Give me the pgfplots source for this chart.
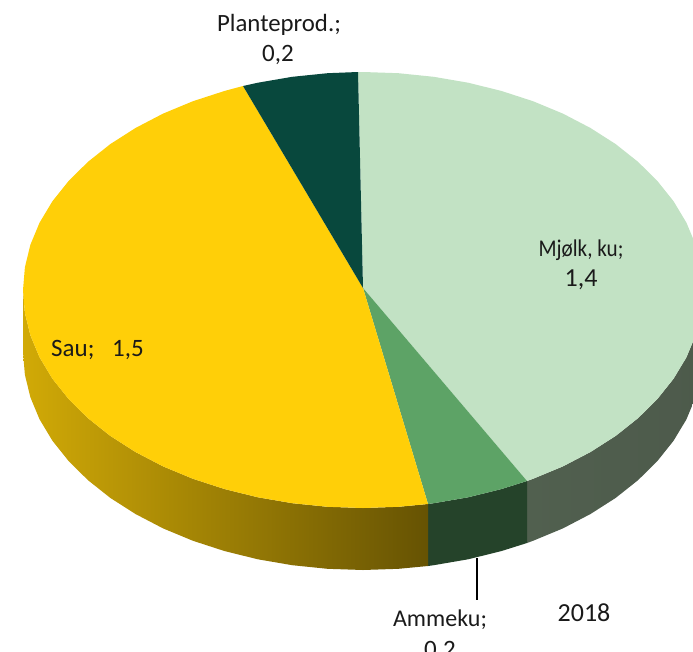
\documentclass[border=0pt]{standalone}
\usepackage{pgfplots}
\usepackage{fontspec}
\setmainfont{Carlito}
\pgfplotsset{compat=1.18}
\definecolor{mj}{HTML}{C2E2C4}
\definecolor{am}{HTML}{5DA366}
\definecolor{pl}{HTML}{08483D}
\definecolor{sa}{HTML}{FFCF08}
\definecolor{amside}{HTML}{25432A}
\definecolor{mjsideL}{HTML}{51604F}
\definecolor{mjsideR}{HTML}{4D5A4B}
\definecolor{txt}{HTML}{1A1A1A}
\newcommand{\lab}[1]{\fontsize{#1}{#1}\selectfont\color{txt}}
\begin{document}
\begin{tikzpicture}[x=1pt,y=1pt]
\useasboundingbox (0,0) rectangle (693,651);
\begin{axis}[at={(0,0)},anchor=south west,scale only axis,width=693pt,height=651pt,
  axis lines=none,xmin=0,xmax=693,ymin=0,ymax=651,y dir=reverse,clip=true]
% Side walls
\addplot[draw=none,left color=mjsideL,right color=mjsideR] coordinates {
(703,290)(701.1,312.8)(695.6,335.3)(686.4,357.4)(673.6,378.7)(657.4,399)(638.1,418.1)(615.7,435.9)(590.5,452)(562.9,466.4)(533,478.8)(527,481)
(527,543)(533,540.8)(562.9,528.4)(590.5,514)(615.7,497.9)(638.1,480.1)(657.4,461)(673.6,440.7)(686.4,419.4)(695.6,397.3)(701.1,374.8)(703,352)} --cycle;
\addplot[draw=none,fill=amside] coordinates {
(527,481)(501.3,489.1)(468.1,497.3)(433.7,503.2)(428,504)
(428,566)(433.7,565.2)(468.1,559.3)(501.3,551.1)(527,543)} --cycle;
\addplot[draw=none,left color=sa!82!black,middle color=sa!66!black,right color=sa!40!black] coordinates {
(428,504)(398.5,506.8)(363,508)(327.5,506.8)(292.3,503.2)(257.9,497.3)(224.7,489.1)(193,478.8)(163.1,466.4)(135.5,452)(110.3,435.9)(87.9,418.1)(68.6,399)(52.4,378.7)(39.6,357.4)(30.4,335.3)(24.9,312.8)(23,290)
(23,352)(24.9,374.8)(30.4,397.3)(39.6,419.4)(52.4,440.7)(68.6,461)(87.9,480.1)(110.3,497.9)(135.5,514)(163.1,528.4)(193,540.8)(224.7,551.1)(257.9,559.3)(292.3,565.2)(327.5,568.8)(363,570)(398.5,568.8)(428,566)} --cycle;
% Top slices
\addplot[draw=none,fill=mj] coordinates {
(363,288)(358,72)(363,72)(398.5,73.2)(433.7,76.8)(468.1,82.7)(501.3,90.9)(533,101.2)(562.9,113.6)(590.5,128)(615.7,144.1)(638.1,161.9)(657.4,181)(673.6,201.3)(686.4,222.6)(695.6,244.7)(701.1,267.2)(703,290)(701.1,312.8)(695.6,335.3)(686.4,357.4)(673.6,378.7)(657.4,399)(638.1,418.1)(615.7,435.9)(590.5,452)(562.9,466.4)(533,478.8)(527,481)} --cycle;
\addplot[draw=none,fill=am] coordinates {
(363,288)(527,481)(501.3,489.1)(468.1,497.3)(433.7,503.2)(428,504)} --cycle;
\addplot[draw=none,fill=sa] coordinates {
(363,288)(428,504)(398.5,506.8)(363,508)(327.5,506.8)(292.3,503.2)(257.9,497.3)(224.7,489.1)(193,478.8)(163.1,466.4)(135.5,452)(110.3,435.9)(87.9,418.1)(68.6,399)(52.4,378.7)(39.6,357.4)(30.4,335.3)(24.9,312.8)(23,290)(24.9,267.2)(30.4,244.7)(39.6,222.6)(52.4,201.3)(68.6,181)(87.9,161.9)(110.3,144.1)(135.5,128)(163.1,113.6)(193,101.2)(224.7,90.9)(243,86)} --cycle;
\addplot[draw=none,fill=pl] coordinates {
(363,288)(243,86)(257.9,82.7)(292.3,76.8)(327.5,73.2)(358,72)} --cycle;
% Leader line
\addplot[black,line width=1.2pt] coordinates {(477,558)(477,600)};
% Labels
\node[font=\lab{24.8},inner sep=0pt] at (axis cs:279,25) {Planteprod.;};
\node[font=\lab{25},inner sep=0pt] at (axis cs:278,55) {0,2};
\node[font=\lab{24},inner sep=0pt] at (axis cs:581,250) {\scalebox{.88}[1]{Mjølk, ku;}};
\node[font=\lab{26},inner sep=0pt] at (axis cs:581,280) {1,4};
\node[font=\lab{25},inner sep=0pt,anchor=west] at (axis cs:51,350) {Sau;};
\node[font=\lab{25},inner sep=0pt,anchor=west] at (axis cs:112,350) {1,5};
\node[font=\lab{24},inner sep=0pt] at (axis cs:440,620) {Ammeku;};
\node[font=\lab{25},inner sep=0pt] at (axis cs:440,651) {0,2};
\node[font=\lab{26},inner sep=0pt] at (axis cs:584,613) {2018};
\end{axis}
\end{tikzpicture}
\end{document}
